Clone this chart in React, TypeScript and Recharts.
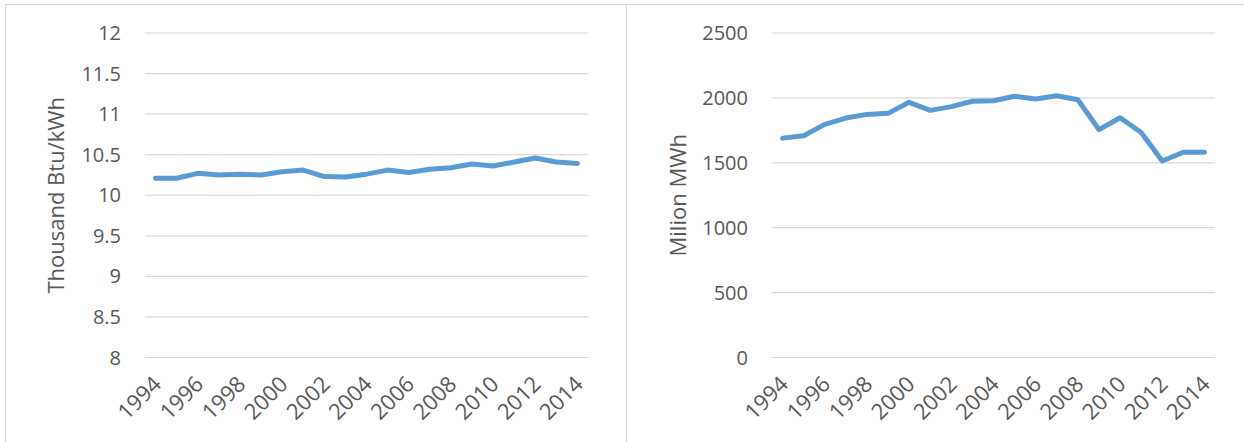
// Two Excel-style line charts: coal heat rate and coal generation, 1994–2014
import { CartesianGrid, Label, Line, LineChart, XAxis, YAxis } from 'recharts'

const years = [
  '1994', '1995', '1996', '1997', '1998', '1999', '2000', '2001', '2002', '2003', '2004',
  '2005', '2006', '2007', '2008', '2009', '2010', '2011', '2012', '2013', '2014',
]

// thousand Btu/kWh
const heatRate = [
  10.21, 10.21, 10.27, 10.25, 10.26, 10.25, 10.29, 10.31, 10.23, 10.225, 10.26,
  10.31, 10.28, 10.32, 10.34, 10.385, 10.36, 10.41, 10.46, 10.41, 10.39,
]

// million MWh
const generation = [
  1690, 1709, 1796, 1845, 1873, 1881, 1966, 1904, 1933, 1974, 1978,
  2013, 1991, 2016, 1986, 1756, 1847, 1733, 1514, 1581, 1582,
]

const leftTicks = [8, 8.5, 9, 9.5, 10, 10.5, 11, 11.5, 12]
const rightTicks = [0, 500, 1000, 1500, 2000, 2500]

const FONT = '"Open Sans", "Liberation Sans", sans-serif'
const GREY = '#595959'
const BLUE = '#5b9bd5'

const leftData = years.map((y, i) => ({ year: y, value: heatRate[i] }))
const rightData = years.map((y, i) => ({ year: y, value: generation[i] }))

function YearTick(props: any) {
  const { x, y, payload } = props
  return (
    <g transform={`translate(${x + 7},${y + 20})`}>
      <text
        transform="rotate(-45)"
        textAnchor="end"
        fill={GREY}
        style={{ fontSize: '22px', fontFamily: FONT }}
      >
        {payload.value}
      </text>
    </g>
  )
}

function Panel({
  data,
  ticks,
  domain,
  title,
  width,
  yWidth,
  right,
  titleOffset,
}: {
  data: { year: string; value: number }[]
  ticks: number[]
  domain: [number, number]
  title: string
  width: number
  yWidth: number
  right: number
  titleOffset: number
}) {
  return (
    <LineChart width={width} height={442} data={data} margin={{ top: 33, right, left: 0, bottom: 0 }}>
      <CartesianGrid vertical={false} stroke="#d9d9d9" strokeWidth={1.2} />
      <XAxis
        dataKey="year"
        scale="band"
        interval={1}
        height={84.5}
        tickLine={false}
        axisLine={{ stroke: '#d9d9d9' }}
        tick={<YearTick />}
      />
      <YAxis
        type="number"
        domain={domain}
        ticks={ticks}
        width={yWidth}
        tickLine={false}
        axisLine={false}
        tickMargin={18}
        tick={{ fill: GREY, fontSize: 20, fontFamily: FONT }}
      >
        <Label
          value={title}
          angle={-90}
          position="insideLeft"
          offset={titleOffset}
          style={{ textAnchor: 'middle', fill: GREY, fontSize: 22, fontFamily: FONT }}
        />
      </YAxis>
      <Line
        type="linear"
        dataKey="value"
        stroke={BLUE}
        strokeWidth={5}
        dot={false}
        strokeLinecap="round"
        strokeLinejoin="round"
        isAnimationActive={false}
      />
    </LineChart>
  )
}

export default function App() {
  return (
    <div style={{ position: 'absolute', left: 0, top: 0, width: 1244, height: 442, background: '#fff', overflow: 'hidden' }}>
      <div style={{ position: 'absolute', left: 5, top: 4, width: 620, height: 460, border: '1px solid #d9d9d9' }} />
      <div style={{ position: 'absolute', left: 626, top: 4, width: 640, height: 460, border: '1px solid #d9d9d9' }} />
      <div style={{ position: 'absolute', left: 0, top: 0 }}>
        <Panel
          data={leftData}
          ticks={leftTicks}
          domain={[8, 12]}
          title="Thousand Btu/kWh"
          width={626}
          yWidth={145}
          right={38}
          titleOffset={56}
        />
      </div>
      <div style={{ position: 'absolute', left: 626, top: 0 }}>
        <Panel
          data={rightData}
          ticks={rightTicks}
          domain={[0, 2500]}
          title="Milion MWh"
          width={618}
          yWidth={146}
          right={29}
          titleOffset={52}
        />
      </div>
    </div>
  )
}
